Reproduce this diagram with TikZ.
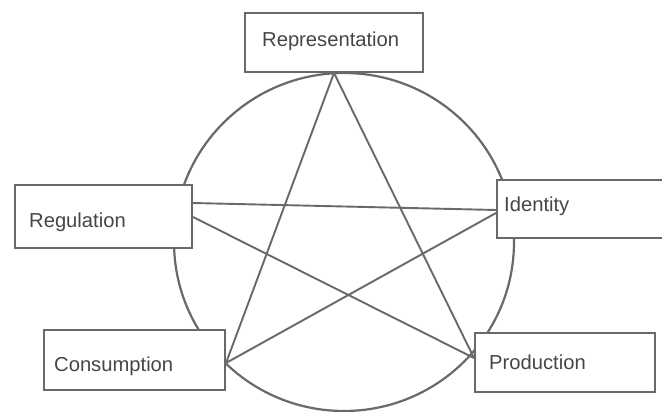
\documentclass[tikz,border=0pt]{standalone}
\usepackage{fontspec}
\setmainfont{Liberation Sans}
\definecolor{linegray}{RGB}{105,105,105}
\definecolor{textgray}{RGB}{70,70,70}
\begin{document}
\begin{tikzpicture}[x=1pt,y=-1pt,
  box/.style={draw=linegray, line width=2pt, fill=white, inner sep=0pt},
  lbl/.style={anchor=west, inner sep=0pt, text=textgray, font=\fontsize{20.2}{23}\selectfont},
  conn/.style={draw=linegray, line width=1.9pt}]
\useasboundingbox (0,0) rectangle (662,412);
\fill[white] (0,0) rectangle (662,412);
% circle
\draw[linegray, line width=2.2pt] (344,242) ellipse [x radius=170pt, y radius=169pt];
% boxes
\node[box, minimum width=178pt, minimum height=59pt] (rep) at (334,42.5) {};
\node[box, minimum width=177pt, minimum height=63pt] (reg) at (103.5,216.5) {};
\node[box, minimum width=190pt, minimum height=58pt] (idn) at (592,209) {};
\node[box, minimum width=181pt, minimum height=60pt] (con) at (134.5,360) {};
\node[box, minimum width=180pt, minimum height=59pt] (pro) at (565,362.5) {};
% labels
\node[lbl] (rept) at (262,41) {Representation};
\node[lbl] (regt) at (29,222) {Regulation};
\node[lbl] (idnt) at (504,206) {Identity};
\node[lbl] (cont) at (54,366) {Consumption};
\node[lbl] (prot) at (489,362) {Production};
% star connectors
\draw[conn] (rep.south) -- ([yshift=-3pt]con.east);
\draw[conn] (rep.south) -- ([yshift=4.5pt]pro.west);
\draw[conn] ([yshift=13.5pt]reg.east) -- ([yshift=-1pt]idn.west);
\draw[conn] ([yshift=-0.5pt]reg.east) -- ([yshift=4.5pt]pro.west);
\draw[conn] ([yshift=-3pt]con.east) -- ([yshift=-4pt]idn.west);
\end{tikzpicture}
\end{document}
